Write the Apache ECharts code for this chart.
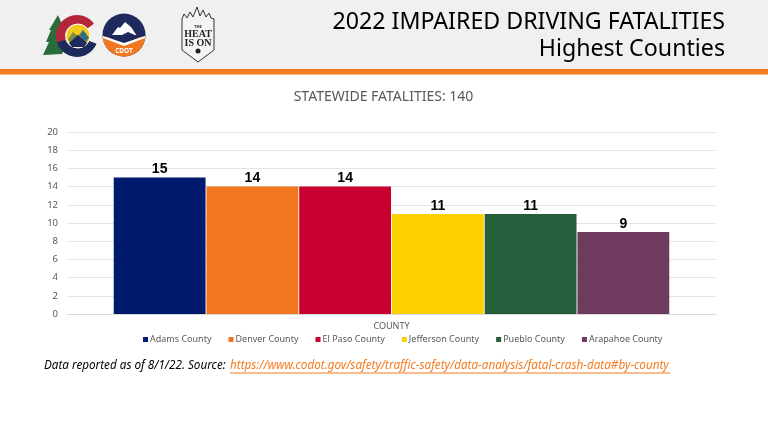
<!DOCTYPE html>
<html>
<head>
<meta charset="utf-8">
<style>
  html, body { margin: 0; padding: 0; background: #fff; }
  #chart { width: 768px; height: 432px; }
</style>
<script src="https://cdn.jsdelivr.net/npm/echarts@6/dist/echarts.min.js"></script>
</head>
<body>
<div id="chart"></div>
<script>
const categories = ['COUNTY'];
const counties = ['Adams County', 'Denver County', 'El Paso County', 'Jefferson County', 'Pueblo County', 'Arapahoe County'];
const fatalities = [15, 14, 14, 11, 11, 9];
const barColors = ['#001A6E', '#F07620', '#C8002F', '#FFD000', '#245F3C', '#6E3A5E'];
const yTicks = [0, 2, 4, 6, 8, 10, 12, 14, 16, 18, 20];

const font = '"Noto Sans", sans-serif';
const chart = echarts.init(document.getElementById('chart'), null, { renderer: 'canvas' });

// header band, logos and footnote are page furniture, not data
function logos() {
  return [
    // tree
    { type: 'polygon', shape: { points: [[58,15],[63,27],[61,27],[66,38],[63,38],[66,46],[62,54],[43,55],[49,42],[46,42],[51,30],[49,30]] }, style: { fill: '#2A6B3C' } },
    // colorado C
    { type: 'sector', shape: { cx: 77, cy: 36, r: 21, r0: 12, startAngle: Math.PI * 0.9, endAngle: Math.PI * 1.8 }, style: { fill: '#B5263B' } },
    { type: 'sector', shape: { cx: 77, cy: 36, r: 21, r0: 12, startAngle: Math.PI * 0.12, endAngle: Math.PI * 0.9 }, style: { fill: '#1F2A5C' } },
    { type: 'circle', shape: { cx: 78, cy: 36, r: 12 }, style: { fill: '#F4C91E', stroke: '#fff', lineWidth: 1 } },
    { type: 'polygon', shape: { points: [[68,39],[73,32],[78,36],[83,30],[89,38],[84,46],[72,46]] }, style: { fill: '#7E8B45' } },
    { type: 'polygon', shape: { points: [[83,30],[89,38],[84,41],[80,35]] }, style: { fill: '#2E6F86' } },
    { type: 'polygon', shape: { points: [[69,43],[78,35],[87,43],[84,47],[72,47]] }, style: { fill: '#1F2A5C' } },
    // CDOT roundel
    { type: 'circle', shape: { cx: 124, cy: 35, r: 21.5 }, style: { fill: '#1F2A5C' } },
    { type: 'polygon', shape: { points: [[112,35],[118,27],[120,28],[125,22],[131,27],[137,36],[128,32],[122,35]] }, style: { fill: '#fff' } },
    { type: 'sector', shape: { cx: 124, cy: 35, r: 21.5, r0: 0, startAngle: Math.PI * 0.03, endAngle: Math.PI * 0.97 }, style: { fill: '#F07620' } },
    { type: 'polygon', shape: { points: [[103,35],[145,35],[124,44]] }, style: { fill: '#1F2A5C' } },
    { type: 'polygon', shape: { points: [[103,38],[124,46],[145,38],[145,36],[124,43],[103,36]] }, style: { fill: '#fff' } },
    { type: 'text', style: { x: 124, y: 51, text: 'CDOT', fill: '#fff', font: 'bold 6.5px ' + font, align: 'center', verticalAlign: 'middle' } },
    // the heat is on badge
    { type: 'polygon', shape: { points: [[182,19],[184,14],[187,18],[190,12],[193,17],[197,7],[200,16],[203,10],[206,17],[209,13],[211,18],[214,19],[214,50],[198,62],[182,50]] }, style: { fill: '#F4F4F4', stroke: '#333', lineWidth: 1 } },
    { type: 'text', style: { x: 198, y: 27, text: 'THE', fill: '#222', font: 'bold 4px ' + font, align: 'center', verticalAlign: 'middle' } },
    { type: 'text', style: { x: 198, y: 34, text: 'HEAT', fill: '#222', font: 'bold 10px "Liberation Serif", serif', align: 'center', verticalAlign: 'middle' } },
    { type: 'text', style: { x: 198, y: 43, text: 'IS ON', fill: '#222', font: 'bold 10px "Liberation Serif", serif', align: 'center', verticalAlign: 'middle' } },
    { type: 'circle', shape: { cx: 198, cy: 51, r: 2.5 }, style: { fill: '#222' } }
  ];
}

chart.setOption({
  animation: false,
  backgroundColor: '#fff',
  title: {
    text: 'STATEWIDE FATALITIES: 140',
    left: 378.5, top: 85, textAlign: 'center',
    textStyle: { color: '#595959', fontFamily: font, fontSize: 14, fontWeight: 'normal' }
  },
  legend: {
    data: counties,
    left: 138, top: 330,
    icon: 'rect', itemWidth: 5, itemHeight: 5, itemGap: 17,
    textStyle: { color: '#595959', fontFamily: font, fontSize: 9, padding: [0, 0, 0, -3] }
  },
  grid: { left: 67, right: 52, top: 132, bottom: 118 },
  xAxis: {
    type: 'category',
    data: categories,
    name: categories[0],
    nameLocation: 'middle',
    nameGap: 8,
    nameTextStyle: { color: '#595959', fontFamily: font, fontSize: 9 },
    axisLabel: { show: false },
    axisTick: { show: false },
    axisLine: { lineStyle: { color: '#D9D9D9' } }
  },
  yAxis: {
    type: 'value',
    min: yTicks[0],
    max: yTicks[yTicks.length - 1],
    interval: yTicks[1] - yTicks[0],
    axisLabel: { color: '#595959', fontFamily: font, fontSize: 9.5, margin: 9 },
    axisLine: { show: false },
    axisTick: { show: false },
    splitLine: { lineStyle: { color: '#E4E4E4' } }
  },
  series: counties.map((name, i) => ({
    name: name,
    type: 'bar',
    data: [fatalities[i]],
    barCategoryGap: '14.4%',
    barGap: '1%',
    itemStyle: { color: barColors[i] },
    label: {
      show: true, position: 'top', distance: 1,
      color: '#000', fontFamily: '"Liberation Sans", sans-serif', fontSize: 14, fontWeight: 'bold'
    }
  })),
  graphic: [
    { type: 'rect', z: -1, shape: { x: 0, y: 0, width: 768, height: 69 }, style: { fill: '#F0F0F0' } },
    { type: 'rect', z: -1, shape: { x: 0, y: 69, width: 768, height: 5.5 }, style: { fill: '#F47B20' } },
    { type: 'text', style: { x: 725, y: 22, text: '2022 IMPAIRED DRIVING FATALITIES', fill: '#000', font: '23.2px ' + font, align: 'right', verticalAlign: 'middle' } },
    { type: 'text', style: { x: 725, y: 49, text: 'Highest Counties', fill: '#000', font: '23.2px ' + font, align: 'right', verticalAlign: 'middle' } },
    { type: 'text', style: { x: 44, y: 366, text: 'Data reported as of 8/1/22. Source:', fill: '#000', font: 'italic 11.7px ' + font, verticalAlign: 'middle' } },
    { type: 'text', style: { x: 230, y: 366, text: 'https://www.codot.gov/safety/traffic-safety/data-analysis/fatal-crash-data#by-county', fill: '#F47B20', font: 'italic 11.7px ' + font, verticalAlign: 'middle' } },
    { type: 'line', shape: { x1: 230, y1: 373, x2: 670, y2: 373 }, style: { stroke: '#F47B20', lineWidth: 1 } }
  ].concat(logos())
});
</script>
</body>
</html>
